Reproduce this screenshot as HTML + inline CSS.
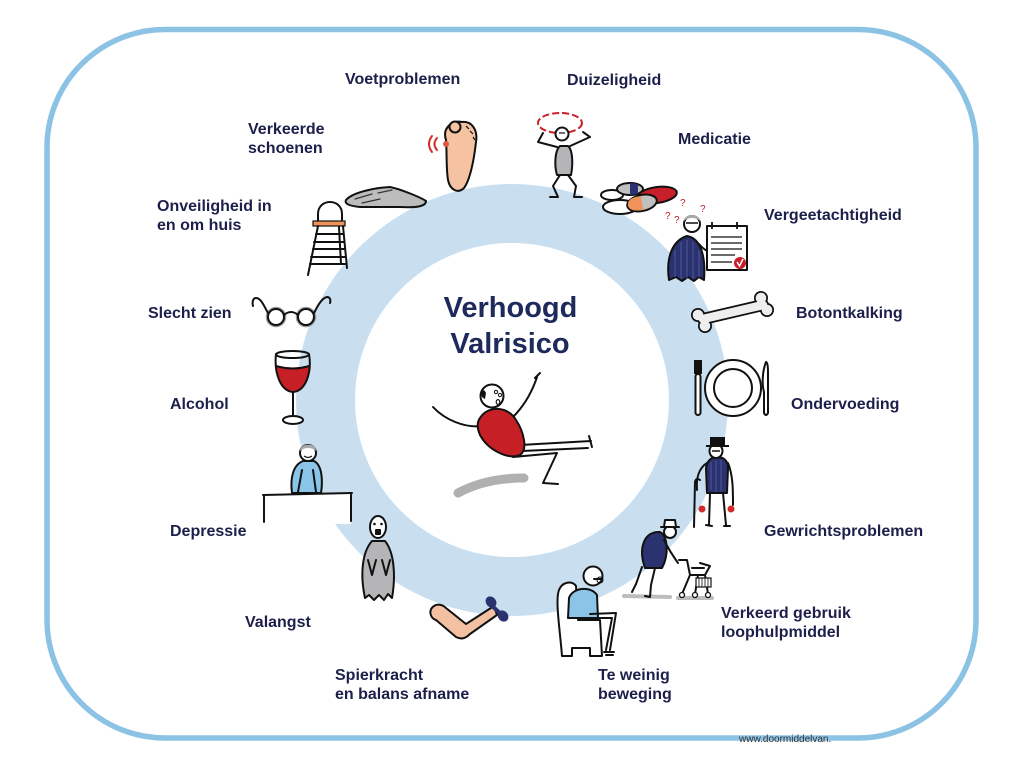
<!DOCTYPE html>
<html><head><meta charset="utf-8"><style>
html,body{margin:0;padding:0;background:#fff;}
svg{display:block;}
text{font-family:"Liberation Sans",Arial,sans-serif;}
.l{font-size:16px;font-weight:bold;fill:#1c1f4a;}
.k{stroke:#111;stroke-width:2;stroke-linecap:round;stroke-linejoin:round;}
</style></head><body>
<svg width="1024" height="768" viewBox="0 0 1024 768" xmlns="http://www.w3.org/2000/svg">
<rect x="0" y="0" width="1024" height="768" fill="#fff"/>
<!-- frame -->
<rect x="47" y="29.5" width="929" height="708.5" rx="118" ry="118" fill="none" stroke="#8cc3e5" stroke-width="5.5"/>
<!-- ring -->
<circle cx="512" cy="400" r="186.5" fill="none" stroke="#c9dff0" stroke-width="59"/>

<!-- center title -->
<text x="510.5" y="317" text-anchor="middle" font-size="29" font-weight="bold" fill="#1f2a5c">Verhoogd</text>
<text x="510" y="353" text-anchor="middle" font-size="29" font-weight="bold" fill="#1f2a5c">Valrisico</text>

<!-- falling figure -->
<path d="M458,493 C480,481 505,478 524,478" fill="none" stroke="#b0b0b0" stroke-width="9" stroke-linecap="round"/>
<path class="k" d="M433,407 C445,420 465,428 481,426" fill="none" stroke-width="2.5"/>
<path class="k" d="M513,417 C525,405 532,392 537,377" fill="none" stroke-width="2.5"/>
<path class="k" d="M535,378 L540,373" fill="none" stroke-width="4"/>
<path class="k" d="M520,445 L591,441 M522,451 L588,448" fill="none" stroke-width="3"/>
<path class="k" d="M589,436 L592,447" fill="none" stroke-width="2"/>
<path class="k" d="M513,457 L557,453 L543,483 L558,484" fill="none" stroke-width="3.5"/>
<path class="k" d="M480,418 C488,405 508,406 516,420 C524,432 528,450 520,455 C508,460 488,450 480,435 C477,428 477,422 480,418 Z" fill="#c61f25" stroke-width="2.5"/>
<circle class="k" cx="492" cy="396" r="11.5" fill="#fff" stroke-width="2.5"/>
<path d="M481,392 Q484,388 486,393 L485,399 Q481,398 481,392 Z" fill="#111"/>
<circle cx="496" cy="392" r="1.6" fill="none" stroke="#111" stroke-width="1"/>
<circle cx="500" cy="395" r="1.6" fill="none" stroke="#111" stroke-width="1"/>
<ellipse cx="498" cy="402" rx="1.8" ry="2.4" fill="none" stroke="#111" stroke-width="1.2"/>

<!-- foot -->
<path class="k" d="M446,140 C442,128 452,120 462,122 C472,121 478,130 476,142 C474,160 470,180 464,188 C458,194 450,190 448,180 C446,168 447,152 446,140 Z" fill="#f5c2a2"/>
<circle class="k" cx="455" cy="127" r="5.5" fill="#f5c2a2" stroke-width="1.8"/>
<path d="M466,126 L469,129 M470,131 L473,134 M473,137 L475,140" stroke="#111" stroke-width="1.2"/>
<circle cx="446" cy="144" r="3" fill="#e0553f"/>
<path d="M437,138 Q432,144 437,150 M432,136 Q426,144 432,152" fill="none" stroke="#d42a2a" stroke-width="2" stroke-linecap="round"/>

<!-- shoe -->
<path class="k" d="M346,200 C352,193 372,188 390,187 C400,189 420,197 426,201 C426,206 418,208 400,207 L360,207 C350,206 344,204 346,200 Z" fill="#bcbcbc"/>
<path d="M355,199 L372,194 M378,193 L392,190 M362,203 L380,199" stroke="#333" stroke-width="1.2" stroke-linecap="round"/>

<!-- ladder -->
<path class="k" d="M318,224 L318,214 C318,198 342,198 342,214 L342,224" fill="none"/>
<rect x="313" y="221" width="32" height="5" fill="#f0935a" stroke="#111" stroke-width="1.2"/>
<path class="k" d="M318,226 L308,275 M343,226 L347,268 M339,227 L341,264" fill="none"/>
<path class="k" d="M316,234 L343,234 M314,242 L344,242 M313,249 L344,249 M311,257 L345,257 M310,264 L345,264" fill="none" stroke-width="1.6"/>

<!-- glasses -->
<circle cx="276" cy="317" r="9.5" fill="none" stroke="#999" stroke-width="1.5"/>
<circle cx="306" cy="317" r="9.5" fill="none" stroke="#999" stroke-width="1.5"/>
<circle class="k" cx="276" cy="317" r="8" fill="none"/>
<circle class="k" cx="306" cy="317" r="8" fill="none"/>
<path class="k" d="M284,315 Q291,309 298,315 M268,313 C264,306 261,298 256,298 C253,298 252,302 253,306 M314,313 C318,305 322,298 327,297 C330,297 331,300 330,303" fill="none"/>

<!-- wine -->
<path d="M275.5,365 C276,380 282,391 293,391 C305,391 310,380 309.5,365 Q293,370 275.5,365 Z" fill="#c61f25"/>
<path class="k" d="M276,354 C274,372 280,391 293,392 C306,391 312,372 309,354" fill="none"/>
<ellipse class="k" cx="292.5" cy="354.5" rx="16.5" ry="3.5" fill="none"/>
<path class="k" d="M276,366 Q293,371 309,366" fill="none" stroke-width="1.4"/>
<path class="k" d="M293,392 L293,417" fill="none"/>
<ellipse class="k" cx="293" cy="420" rx="10" ry="4" fill="#fff"/>

<!-- depressie -->
<path class="k" d="M292,493 C290,478 293,465 303,461 L314,461 C322,465 323,480 321,493 Z" fill="#8ac4e6" stroke-width="1.8"/>
<path class="k" d="M298,492 L302,470 M316,492 L313,470" fill="none" stroke-width="1.4"/>
<circle class="k" cx="308" cy="453" r="8" fill="#fff" stroke-width="1.6"/>
<path d="M300,451 C300,443 316,442 316,451 C312,447 304,447 300,451 Z" fill="#aaa"/>
<path d="M304,456 Q308,459 312,456" stroke="#111" stroke-width="1.2" fill="none"/>
<rect x="263" y="494" width="88" height="30" fill="#fff"/>
<path class="k" d="M263,495 L352,493 M264,495 L264,522 M351,493 L351,521" fill="none" stroke-width="2.2"/>

<!-- valangst -->
<path class="k" d="M365,598 C360,575 362,552 372,541 L385,541 C394,552 396,575 392,598 L388,594 L384,600 L379,595 L374,600 L369,595 Z" fill="#b5b5b8" stroke-width="1.6"/>
<path class="k" d="M368,560 L372,575 L376,560 M390,560 L386,575 L382,560" fill="none" stroke-width="1.4"/>
<ellipse class="k" cx="378" cy="527" rx="8" ry="11" fill="#fff" stroke-width="1.8"/>
<circle cx="374.5" cy="524" r="1.3" fill="#111"/><circle cx="381.5" cy="524" r="1.3" fill="#111"/>
<rect x="375" y="529" width="6" height="6" rx="1" fill="#111"/>

<!-- arm dumbbell -->
<path class="k" d="M434,606 C428,610 430,618 436,620 L456,637 C462,640 466,638 470,634 L497,615 L494,606 L466,624 L446,608 C442,604 437,604 434,606 Z" fill="#f3c1a1"/>
<path d="M490,604 L503,616" stroke="#2b3270" stroke-width="4"/>
<ellipse cx="491" cy="602" rx="5" ry="6" transform="rotate(-40 491 602)" fill="#2b3270"/>
<ellipse cx="503" cy="616" rx="5" ry="6" transform="rotate(-40 503 616)" fill="#2b3270"/>

<!-- armchair person -->
<path class="k" d="M562,656 C560,630 555,600 559,590 C562,582 572,580 576,586 L578,620 L600,620 L602,656 L590,656 L590,648 L572,648 L572,656 Z" fill="#fff"/>
<path class="k" d="M568,618 L569,598 C572,588 590,585 597,595 L598,618 Z" fill="#8ac4e6" stroke-width="1.8"/>
<path class="k" d="M590,614 L616,613 L610,650 M596,618 L612,618 L606,650" fill="none" stroke-width="1.8"/>
<path class="k" d="M604,652 L614,652 M606,655 L613,655" fill="none" stroke-width="1.2"/>
<circle class="k" cx="593" cy="576" r="9.5" fill="#fff" stroke-width="1.8"/>
<path class="k" d="M594,579 L602,579" fill="none" stroke-width="1.5"/>
<circle cx="600" cy="580" r="3" fill="none" stroke="#111" stroke-width="1"/>

<!-- walker person -->
<path d="M624,596 L670,597 M678,598 L712,598" stroke="#bdbdbd" stroke-width="4" stroke-linecap="round"/>
<path class="k" d="M642,567 L636,584 L632,592 M655,568 L651,585 L650,597 L645,596" fill="none" stroke-width="1.8"/>
<path class="k" d="M645,568 C638,548 644,531 660,532 C668,536 669,555 662,568 Z" fill="#2b3270" stroke-width="1.5"/>
<path class="k" d="M664,540 C668,548 673,556 678,563" fill="none" stroke-width="1.6"/>
<circle class="k" cx="670" cy="532" r="6" fill="#fff" stroke-width="1.5"/>
<path class="k" d="M661,527 L679,527 M664,527 L665,520 L675,520 L676,527" fill="#fff" stroke-width="1.5"/>
<path class="k" d="M679,560 L687,560 L690,575 L705,575 L710,566 L700,563 M690,575 L682,594 M698,575 L695,594 M705,575 L708,594 M692,568 L704,568" fill="none" stroke-width="1.6"/>
<rect x="696" y="578" width="15" height="9" fill="#fff" stroke="#111" stroke-width="1.2"/>
<path d="M699,578 L699,587 M702,578 L702,587 M705,578 L705,587 M708,578 L708,587" stroke="#111" stroke-width="0.8"/>
<circle cx="682" cy="595" r="2.5" fill="#fff" stroke="#111" stroke-width="1.3"/>
<circle cx="695" cy="595" r="2.5" fill="#fff" stroke="#111" stroke-width="1.3"/>
<circle cx="708" cy="595" r="2.5" fill="#fff" stroke="#111" stroke-width="1.3"/>

<!-- gewricht person -->
<path class="k" d="M710,493 L709,525 M723,493 L726,525 M706,525 L712,526 M724,526 L730,526" fill="none" stroke-width="2"/>
<path class="k" d="M707,493 L706,468 C707,460 712,457 717,457 C724,457 728,461 728,468 L727,493 Z" fill="#2b3270" stroke-width="1.5"/>
<path d="M711,462 L711,490 M716,460 L716,492 M721,460 L721,491" stroke="#5a62a0" stroke-width="0.8"/>
<path class="k" d="M707,463 C699,468 696,478 697,490 M728,463 C733,475 733,490 733,505" fill="none" stroke-width="1.8"/>
<path class="k" d="M694,527 L695,482 Q696,477 700,480" fill="none" stroke-width="1.8"/>
<ellipse class="k" cx="716" cy="451" rx="6.5" ry="7" fill="#fff" stroke-width="1.5"/>
<path d="M712,451 L720,451" stroke="#111" stroke-width="1.5"/>
<path d="M706,446 L729,446 M711,446 L711,438 L724,438 L724,446 Z" fill="#111" stroke="#111" stroke-width="2"/>
<circle cx="702" cy="509" r="3.5" fill="#d42a2a"/>
<circle cx="731" cy="509" r="3.5" fill="#d42a2a"/>

<!-- plate -->
<rect x="694" y="360" width="8" height="14" fill="#111"/>
<rect class="k" x="695.5" y="374" width="5" height="41" rx="2.5" fill="#fff" stroke-width="1.6"/>
<circle class="k" cx="733" cy="388" r="28" fill="#fff"/>
<circle class="k" cx="733" cy="388" r="19" fill="none"/>
<path class="k" d="M766,362 C762,372 762,385 764,392 L764,413 Q766,417 768,413 L768,372 Q768,362 766,362 Z" fill="#fff" stroke-width="1.6"/>

<!-- bone -->
<g fill="#111">
<circle cx="698" cy="315" r="7"/><circle cx="705" cy="326" r="7"/>
<circle cx="761" cy="298" r="7"/><circle cx="767" cy="310" r="7"/>
</g>
<path d="M703,319 L763,305" stroke="#111" stroke-width="12" stroke-linecap="round"/>
<g fill="#eeeeee">
<circle cx="698" cy="315" r="5.3"/><circle cx="705" cy="326" r="5.3"/>
<circle cx="761" cy="298" r="5.3"/><circle cx="767" cy="310" r="5.3"/>
</g>
<path d="M703,319 L763,305" stroke="#eeeeee" stroke-width="8.5" stroke-linecap="round"/>

<!-- forgetful person -->
<path class="k" d="M669,280 C666,260 671,241 687,236 C700,238 706,255 704,280 L699,277 L694,281 L688,277 L682,281 L676,277 Z" fill="#2b3270" stroke-width="1.5"/>
<path d="M675,250 L675,277 M681,242 L681,279 M687,240 L687,279 M693,242 L693,279 M699,250 L699,277" stroke="#5a62a0" stroke-width="0.8"/>
<path class="k" d="M699,244 C704,250 708,252 713,252" fill="none" stroke-width="1.6"/>
<circle class="k" cx="692" cy="224" r="8" fill="#fff" stroke-width="1.5"/>
<path d="M684,221 C684,213 700,213 700,221 C696,217 688,217 684,221 Z" fill="#aaa"/>
<path d="M686,223 L698,223" stroke="#111" stroke-width="1.5"/>
<rect class="k" x="707" y="226" width="40" height="44" fill="#fff" stroke-width="1.6"/>
<path d="M712,222 L712,229 M737,222 L737,229" stroke="#111" stroke-width="1.8"/>
<path d="M711,237 L742,237 M711,243 L742,243 M711,249 L742,249 M711,255 L735,255 M711,262 L732,262" stroke="#111" stroke-width="1.2"/>
<circle cx="740" cy="263" r="6" fill="#c8202a"/>
<path d="M737,262 L739.5,266 L743,259" stroke="#fff" stroke-width="1.5" fill="none"/>
<g font-size="10" fill="#c8202a" font-family="Liberation Sans, sans-serif">
<text x="680" y="206">?</text><text x="700" y="212">?</text><text x="665" y="219">?</text><text x="674" y="223">?</text>
</g>

<!-- pills -->
<ellipse class="k" cx="620" cy="207" rx="17" ry="7" fill="#fff" stroke-width="1.5"/>
<ellipse class="k" cx="612" cy="195" rx="11" ry="5" fill="#fff" stroke-width="1.5"/>
<ellipse class="k" cx="630" cy="189" rx="13" ry="6" fill="#c0c0c0" stroke-width="1.5"/>
<path d="M630,183 L638,184 L638,194 L630,195 Z" fill="#2b3270"/>
<ellipse class="k" cx="657" cy="195" rx="20" ry="8" transform="rotate(-8 657 195)" fill="#c8202a" stroke-width="1.5"/>
<ellipse class="k" cx="642" cy="203" rx="15" ry="8" transform="rotate(-12 642 203)" fill="#c0c0c0" stroke-width="1.5"/>
<path d="M628,206 C627,199 633,197 641,196 L643,210 C636,211 630,211 628,206 Z" fill="#f0935a"/>

<!-- dizzy figure -->
<ellipse cx="560" cy="123" rx="22" ry="10" fill="none" stroke="#c8202a" stroke-width="2" stroke-dasharray="7 3"/>
<path class="k" d="M557,147 L538,142 L543,133 M568,147 L590,137 L583,132" fill="none" stroke-width="1.6"/>
<path class="k" d="M557,175 C554,165 555,150 560,146 L568,146 C573,150 573,165 571,175 Z" fill="#b5b5b8" stroke-width="1.5"/>
<path class="k" d="M560,175 L553,186 L558,197 L550,197 M568,175 L576,186 L574,197 L582,197" fill="none" stroke-width="1.8"/>
<circle class="k" cx="562" cy="134" r="6.5" fill="#fff" stroke-width="1.5"/>
<path d="M559,133 L565,133" stroke="#111" stroke-width="1.2"/>

<!-- labels -->
<text class="l" x="345" y="84">Voetproblemen</text>
<text class="l" x="567" y="85">Duizeligheid</text>
<text class="l" x="678" y="144">Medicatie</text>
<text class="l" x="248" y="134">Verkeerde</text>
<text class="l" x="248" y="153">schoenen</text>
<text class="l" x="764" y="220">Vergeetachtigheid</text>
<text class="l" x="157" y="211">Onveiligheid in</text>
<text class="l" x="157" y="230">en om huis</text>
<text class="l" x="796" y="318">Botontkalking</text>
<text class="l" x="148" y="318">Slecht zien</text>
<text class="l" x="170" y="409">Alcohol</text>
<text class="l" x="791" y="409">Ondervoeding</text>
<text class="l" x="170" y="536">Depressie</text>
<text class="l" x="764" y="536">Gewrichtsproblemen</text>
<text class="l" x="245" y="627">Valangst</text>
<text class="l" x="721" y="618">Verkeerd gebruik</text>
<text class="l" x="721" y="637">loophulpmiddel</text>
<text class="l" x="335" y="680">Spierkracht</text>
<text class="l" x="335" y="699">en balans afname</text>
<text class="l" x="598" y="680">Te weinig</text>
<text class="l" x="598" y="699">beweging</text>
<text x="739" y="742" font-size="10" fill="#333">www.doormiddelvan.</text>
</svg>
</body></html>
